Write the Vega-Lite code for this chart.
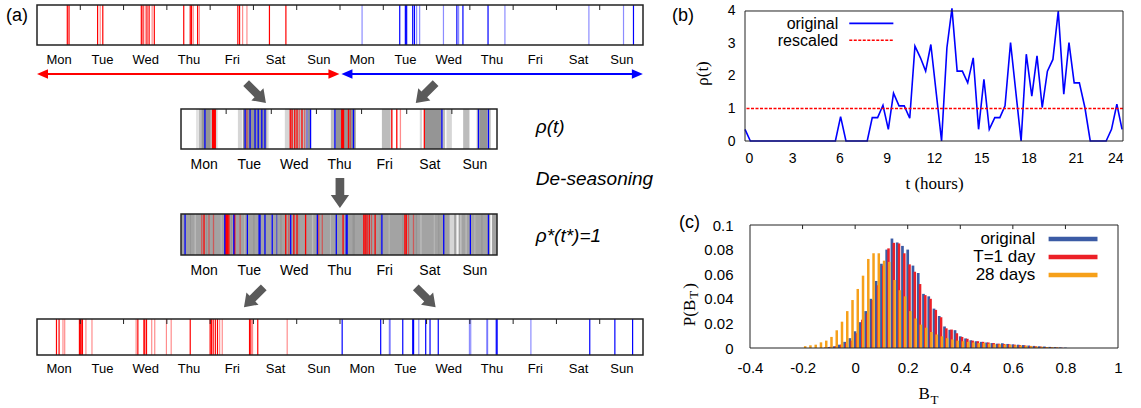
{
  "$schema": "https://vega.github.io/schema/vega-lite/v6.json",
  "background": "white",
  "padding": {"left": 6, "top": 3, "right": 0, "bottom": 0},
  "bounds": "flush",
  "spacing": 708,
  "resolve": {"scale": {"color": "independent", "fill": "independent", "strokeOpacity": "independent"}},
  "config": {
    "view": {"stroke": null},
    "font": "Liberation Sans",
    "axis": {"labelFont": "Liberation Sans", "labelColor": "#000", "titleColor": "#000", "titleFont": "Liberation Serif", "titleFontWeight": "normal", "grid": false, "domainColor": "#000", "tickColor": "#000", "labelOverlap": false},
    "text": {"font": "Liberation Sans", "color": "#000"}
  },
  "datasets": {
    "dt": [{"d":1},{"d":2},{"d":3},{"d":4},{"d":5},{"d":6},{"d":7},{"d":8},{"d":9},{"d":10},{"d":11},{"d":12},{"d":13}],
    "ev": [
      {"s":1,"t":0.70,"w":1,"n":2},{"s":1,"t":0.74,"w":1,"n":2},{"s":1,"t":1.40,"w":1,"n":2},{"s":1,"t":1.46,"w":1,"n":1},{"s":1,"t":1.52,"w":1,"n":2},{"s":1,"t":2.41,"w":1,"n":2},{"s":1,"t":2.45,"w":1,"n":2},{"s":1,"t":2.50,"w":1,"n":1},{"s":1,"t":2.54,"w":1,"n":2},{"s":1,"t":2.59,"w":1,"n":2},{"s":1,"t":2.66,"w":1,"n":1},{"s":1,"t":2.71,"w":1,"n":2},{"s":1,"t":3.39,"w":1,"n":2},{"s":1,"t":3.54,"w":1,"n":2},{"s":1,"t":3.57,"w":1,"n":2},{"s":1,"t":3.61,"w":1,"n":1},{"s":1,"t":3.71,"w":1,"n":2},{"s":1,"t":3.75,"w":1,"n":1},{"s":1,"t":4.64,"w":1,"n":2},{"s":1,"t":4.68,"w":1,"n":2},{"s":1,"t":4.75,"w":1,"n":1},{"s":1,"t":4.85,"w":1,"n":1},{"s":1,"t":5.37,"w":1,"n":2},{"s":1,"t":5.75,"w":1,"n":2},
      {"s":1,"t":7.51,"w":2,"n":1},{"s":1,"t":8.38,"w":2,"n":2},{"s":1,"t":8.51,"w":2,"n":2},{"s":1,"t":8.54,"w":2,"n":2},{"s":1,"t":8.68,"w":2,"n":2},{"s":1,"t":8.72,"w":2,"n":2},{"s":1,"t":8.77,"w":2,"n":1},{"s":1,"t":8.84,"w":2,"n":1},{"s":1,"t":9.39,"w":2,"n":1},{"s":1,"t":9.70,"w":2,"n":2},{"s":1,"t":9.74,"w":2,"n":1},{"s":1,"t":9.84,"w":2,"n":2},{"s":1,"t":10.42,"w":2,"n":2},{"s":1,"t":10.81,"w":2,"n":1},{"s":1,"t":12.75,"w":2,"n":1},{"s":1,"t":13.55,"w":2,"n":1},{"s":1,"t":13.78,"w":2,"n":2},
      {"s":2,"t":0.70,"w":1,"n":2},{"s":2,"t":0.72,"w":1,"n":2},{"s":2,"t":0.74,"w":1,"n":2},{"s":2,"t":0.76,"w":1,"n":2},{"s":2,"t":1.46,"w":1,"n":1},{"s":2,"t":2.42,"w":1,"n":2},{"s":2,"t":2.46,"w":1,"n":2},{"s":2,"t":2.52,"w":1,"n":2},{"s":2,"t":2.57,"w":1,"n":2},{"s":2,"t":2.62,"w":1,"n":1},{"s":2,"t":2.68,"w":1,"n":2},{"s":2,"t":2.74,"w":1,"n":1},{"s":2,"t":3.56,"w":1,"n":2},{"s":2,"t":3.58,"w":1,"n":2},{"s":2,"t":3.60,"w":1,"n":2},{"s":2,"t":3.71,"w":1,"n":2},{"s":2,"t":3.75,"w":1,"n":1},{"s":2,"t":4.67,"w":1,"n":2},{"s":2,"t":4.78,"w":1,"n":2},{"s":2,"t":4.86,"w":1,"n":1},{"s":2,"t":5.39,"w":1,"n":2},
      {"s":2,"t":0.53,"w":2,"n":2},{"s":2,"t":1.42,"w":2,"n":2},{"s":2,"t":1.53,"w":2,"n":2},{"s":2,"t":1.64,"w":2,"n":2},{"s":2,"t":1.71,"w":2,"n":2},{"s":2,"t":1.79,"w":2,"n":2},{"s":2,"t":1.86,"w":2,"n":2},{"s":2,"t":2.79,"w":2,"n":1},{"s":2,"t":2.87,"w":2,"n":2},{"s":2,"t":3.41,"w":2,"n":2},{"s":2,"t":3.82,"w":2,"n":2},{"s":2,"t":5.78,"w":2,"n":2},{"s":2,"t":6.59,"w":2,"n":2},{"s":2,"t":6.81,"w":2,"n":2},
      {"s":3,"t":0.46,"w":1,"n":1},{"s":3,"t":0.51,"w":1,"n":2},{"s":3,"t":0.62,"w":1,"n":1},{"s":3,"t":0.72,"w":1,"n":1},{"s":3,"t":0.99,"w":1,"n":2},{"s":3,"t":1.01,"w":1,"n":2},{"s":3,"t":1.03,"w":1,"n":2},{"s":3,"t":1.06,"w":1,"n":2},{"s":3,"t":1.19,"w":1,"n":2},{"s":3,"t":1.31,"w":1,"n":1},{"s":3,"t":2.32,"w":1,"n":2},{"s":3,"t":2.39,"w":1,"n":1},{"s":3,"t":2.50,"w":1,"n":2},{"s":3,"t":2.57,"w":1,"n":2},{"s":3,"t":2.76,"w":1,"n":2},{"s":3,"t":3.05,"w":1,"n":1},{"s":3,"t":3.13,"w":1,"n":1},{"s":3,"t":3.59,"w":1,"n":2},{"s":3,"t":4.05,"w":1,"n":2},{"s":3,"t":4.08,"w":1,"n":2},{"s":3,"t":4.12,"w":1,"n":2},{"s":3,"t":4.17,"w":1,"n":2},{"s":3,"t":4.22,"w":1,"n":1},{"s":3,"t":4.30,"w":1,"n":2},{"s":3,"t":4.96,"w":1,"n":2},{"s":3,"t":4.99,"w":1,"n":2},{"s":3,"t":5.04,"w":1,"n":1},{"s":3,"t":5.15,"w":1,"n":1},
      {"s":3,"t":0.09,"w":2,"n":2},{"s":3,"t":0.97,"w":2,"n":2},{"s":3,"t":1.17,"w":2,"n":2},{"s":3,"t":1.47,"w":2,"n":2},{"s":3,"t":1.73,"w":2,"n":2},{"s":3,"t":1.75,"w":2,"n":2},{"s":3,"t":1.86,"w":2,"n":2},{"s":3,"t":2.02,"w":2,"n":2},{"s":3,"t":2.12,"w":2,"n":1},{"s":3,"t":2.43,"w":2,"n":2},{"s":3,"t":3.02,"w":2,"n":2},{"s":3,"t":3.44,"w":2,"n":2},{"s":3,"t":3.66,"w":2,"n":2},{"s":3,"t":3.68,"w":2,"n":2},{"s":3,"t":4.45,"w":2,"n":2},{"s":3,"t":5.82,"w":2,"n":2},{"s":3,"t":6.41,"w":2,"n":2},{"s":3,"t":6.81,"w":2,"n":2},
      {"s":4,"t":0.45,"w":1,"n":2},{"s":4,"t":0.51,"w":1,"n":2},{"s":4,"t":0.60,"w":1,"n":1},{"s":4,"t":0.64,"w":1,"n":1},{"s":4,"t":0.98,"w":1,"n":2},{"s":4,"t":1.00,"w":1,"n":2},{"s":4,"t":1.02,"w":1,"n":2},{"s":4,"t":1.05,"w":1,"n":2},{"s":4,"t":1.13,"w":1,"n":1},{"s":4,"t":1.27,"w":1,"n":1},{"s":4,"t":2.29,"w":1,"n":1},{"s":4,"t":2.33,"w":1,"n":2},{"s":4,"t":2.47,"w":1,"n":2},{"s":4,"t":2.49,"w":1,"n":2},{"s":4,"t":2.53,"w":1,"n":2},{"s":4,"t":2.65,"w":1,"n":1},{"s":4,"t":2.72,"w":1,"n":1},{"s":4,"t":2.99,"w":1,"n":1},{"s":4,"t":3.10,"w":1,"n":1},{"s":4,"t":3.54,"w":1,"n":2},{"s":4,"t":4.00,"w":1,"n":2},{"s":4,"t":4.03,"w":1,"n":2},{"s":4,"t":4.07,"w":1,"n":2},{"s":4,"t":4.12,"w":1,"n":2},{"s":4,"t":4.17,"w":1,"n":2},{"s":4,"t":4.22,"w":1,"n":1},{"s":4,"t":4.28,"w":1,"n":1},{"s":4,"t":4.91,"w":1,"n":2},{"s":4,"t":4.94,"w":1,"n":2},{"s":4,"t":4.98,"w":1,"n":1},{"s":4,"t":5.10,"w":1,"n":2},{"s":4,"t":5.78,"w":1,"n":1},
      {"s":4,"t":7.05,"w":2,"n":2},{"s":4,"t":7.94,"w":2,"n":2},{"s":4,"t":8.14,"w":2,"n":1},{"s":4,"t":8.16,"w":2,"n":1},{"s":4,"t":8.45,"w":2,"n":2},{"s":4,"t":8.68,"w":2,"n":2},{"s":4,"t":8.70,"w":2,"n":2},{"s":4,"t":8.82,"w":2,"n":1},{"s":4,"t":8.98,"w":2,"n":2},{"s":4,"t":9.08,"w":2,"n":2},{"s":4,"t":9.27,"w":2,"n":2},{"s":4,"t":9.99,"w":2,"n":1},{"s":4,"t":10.02,"w":2,"n":1},{"s":4,"t":10.39,"w":2,"n":1},{"s":4,"t":10.41,"w":2,"n":1},{"s":4,"t":10.61,"w":2,"n":2},{"s":4,"t":10.63,"w":2,"n":2},{"s":4,"t":11.41,"w":2,"n":1},{"s":4,"t":12.77,"w":2,"n":2},{"s":4,"t":13.35,"w":2,"n":2},{"s":4,"t":13.76,"w":2,"n":2}
    ],
    "gray": [
      {"s":2,"a":0.34,"b":0.37,"g":1},{"s":2,"a":0.39,"b":0.45,"g":2},{"s":2,"a":0.45,"b":0.66,"g":4},{"s":2,"a":0.66,"b":0.70,"g":2},{"s":2,"a":0.77,"b":0.81,"g":1},
      {"s":2,"a":1.26,"b":1.35,"g":1},{"s":2,"a":1.37,"b":1.90,"g":4},{"s":2,"a":1.90,"b":1.94,"g":1},
      {"s":2,"a":2.30,"b":2.42,"g":1},{"s":2,"a":2.42,"b":2.80,"g":2},{"s":2,"a":2.80,"b":2.86,"g":4},
      {"s":2,"a":3.32,"b":3.42,"g":2},{"s":2,"a":3.42,"b":3.87,"g":4},
      {"s":2,"a":4.45,"b":4.63,"g":2},{"s":2,"a":4.63,"b":4.68,"g":1},
      {"s":2,"a":5.29,"b":5.34,"g":1},{"s":2,"a":5.40,"b":5.79,"g":4},{"s":2,"a":5.79,"b":5.85,"g":2},{"s":2,"a":5.88,"b":6.00,"g":1},
      {"s":2,"a":6.25,"b":6.39,"g":2},{"s":2,"a":6.55,"b":6.86,"g":2},{"s":2,"a":6.62,"b":6.78,"g":4},
      {"s":3,"a":0.00,"b":7.00,"g":3},
      {"s":3,"a":0.20,"b":0.22,"g":4},{"s":3,"a":0.30,"b":0.33,"g":2},{"s":3,"a":0.55,"b":0.58,"g":4},{"s":3,"a":0.88,"b":0.90,"g":2},{"s":3,"a":1.10,"b":1.13,"g":4},{"s":3,"a":1.40,"b":1.42,"g":2},{"s":3,"a":1.60,"b":1.63,"g":4},{"s":3,"a":2.00,"b":2.02,"g":2},{"s":3,"a":2.20,"b":2.23,"g":4},{"s":3,"a":2.60,"b":2.62,"g":4},{"s":3,"a":2.90,"b":2.93,"g":2},{"s":3,"a":3.30,"b":3.32,"g":2},{"s":3,"a":3.80,"b":3.85,"g":4},{"s":3,"a":4.40,"b":4.43,"g":4},{"s":3,"a":4.60,"b":4.62,"g":2},{"s":3,"a":4.90,"b":4.93,"g":4},{"s":3,"a":5.20,"b":5.23,"g":4},{"s":3,"a":5.30,"b":5.33,"g":2},{"s":3,"a":5.60,"b":5.62,"g":2},{"s":3,"a":5.70,"b":5.72,"g":4},{"s":3,"a":5.95,"b":6.05,"g":1},{"s":3,"a":6.10,"b":6.15,"g":0},{"s":3,"a":6.19,"b":6.21,"g":1},{"s":3,"a":6.30,"b":6.33,"g":2},{"s":3,"a":6.50,"b":6.52,"g":2},{"s":3,"a":6.65,"b":6.68,"g":4},{"s":3,"a":6.85,"b":6.89,"g":0}
    ],
    "rho": [
      {"t":0.00,"r":0.36},{"t":0.34,"r":0},{"t":5.74,"r":0},{"t":6.07,"r":0.75},{"t":6.41,"r":0},{"t":7.76,"r":0},{"t":8.08,"r":0.72},{"t":8.42,"r":0.72},{"t":8.76,"r":1.1},{"t":9.10,"r":0.36},{"t":9.43,"r":1.47},{"t":9.78,"r":1.08},{"t":10.11,"r":1.08},{"t":10.46,"r":0.7},{"t":10.79,"r":2.92},{"t":11.14,"r":2.56},{"t":11.47,"r":2.15},{"t":11.80,"r":2.97},{"t":12.15,"r":1.44},{"t":12.48,"r":0},{"t":12.82,"r":2.87},{"t":13.14,"r":4.08},{"t":13.47,"r":2.15},{"t":13.80,"r":2.15},{"t":14.14,"r":1.79},{"t":14.49,"r":2.56},{"t":14.83,"r":0.36},{"t":15.17,"r":1.9},{"t":15.51,"r":0.36},{"t":15.86,"r":0.72},{"t":16.18,"r":0.72},{"t":16.51,"r":1.08},{"t":16.86,"r":3.03},{"t":17.21,"r":1.44},{"t":17.53,"r":0},{"t":17.86,"r":2.67},{"t":18.21,"r":1.38},{"t":18.54,"r":2.62},{"t":18.87,"r":1.03},{"t":19.20,"r":2.15},{"t":19.55,"r":2.51},{"t":19.89,"r":4.0},{"t":20.24,"r":1.44},{"t":20.57,"r":3.03},{"t":20.90,"r":1.79},{"t":21.23,"r":1.79},{"t":21.58,"r":1.03},{"t":21.92,"r":0},{"t":22.93,"r":0},{"t":23.27,"r":0.36},{"t":23.61,"r":1.13},{"t":23.94,"r":0.36}
    ],
    "hist": [
      {"k":"original","x":-0.10,"p":0.0008},{"k":"original","x":-0.08,"p":0.0014},{"k":"original","x":-0.06,"p":0.0027},{"k":"original","x":-0.04,"p":0.005},{"k":"original","x":-0.02,"p":0.008},{"k":"original","x":0.00,"p":0.0136},{"k":"original","x":0.02,"p":0.021},{"k":"original","x":0.04,"p":0.030},{"k":"original","x":0.06,"p":0.040},{"k":"original","x":0.08,"p":0.0545},{"k":"original","x":0.10,"p":0.0685},{"k":"original","x":0.12,"p":0.080},{"k":"original","x":0.14,"p":0.089},{"k":"original","x":0.16,"p":0.0858},{"k":"original","x":0.18,"p":0.083},{"k":"original","x":0.20,"p":0.080},{"k":"original","x":0.22,"p":0.067},{"k":"original","x":0.24,"p":0.061},{"k":"original","x":0.26,"p":0.044},{"k":"original","x":0.28,"p":0.042},{"k":"original","x":0.30,"p":0.032},{"k":"original","x":0.32,"p":0.026},{"k":"original","x":0.34,"p":0.0175},{"k":"original","x":0.36,"p":0.0148},{"k":"original","x":0.38,"p":0.0145},{"k":"original","x":0.40,"p":0.0095},{"k":"original","x":0.42,"p":0.0078},{"k":"original","x":0.44,"p":0.0063},{"k":"original","x":0.46,"p":0.0055},{"k":"original","x":0.48,"p":0.005},{"k":"original","x":0.50,"p":0.0045},{"k":"original","x":0.52,"p":0.004},{"k":"original","x":0.54,"p":0.0035},{"k":"original","x":0.56,"p":0.0038},{"k":"original","x":0.58,"p":0.0033},{"k":"original","x":0.60,"p":0.003},{"k":"original","x":0.62,"p":0.0027},{"k":"original","x":0.64,"p":0.0024},{"k":"original","x":0.66,"p":0.002},{"k":"original","x":0.68,"p":0.0017},{"k":"original","x":0.70,"p":0.0014},{"k":"original","x":0.72,"p":0.0012},{"k":"original","x":0.74,"p":0.0009},{"k":"original","x":0.76,"p":0.0007},{"k":"original","x":0.78,"p":0.0005},{"k":"original","x":0.80,"p":0.0003},
      {"k":"day","x":-0.113,"p":0.0005},{"k":"day","x":-0.093,"p":0.001},{"k":"day","x":-0.073,"p":0.0016},{"k":"day","x":-0.053,"p":0.0027},{"k":"day","x":-0.033,"p":0.004},{"k":"day","x":-0.013,"p":0.006},{"k":"day","x":0.007,"p":0.012},{"k":"day","x":0.027,"p":0.023},{"k":"day","x":0.047,"p":0.028},{"k":"day","x":0.067,"p":0.039},{"k":"day","x":0.087,"p":0.051},{"k":"day","x":0.107,"p":0.067},{"k":"day","x":0.127,"p":0.081},{"k":"day","x":0.147,"p":0.0855},{"k":"day","x":0.167,"p":0.085},{"k":"day","x":0.187,"p":0.077},{"k":"day","x":0.207,"p":0.068},{"k":"day","x":0.227,"p":0.062},{"k":"day","x":0.247,"p":0.052},{"k":"day","x":0.267,"p":0.043},{"k":"day","x":0.287,"p":0.040},{"k":"day","x":0.307,"p":0.031},{"k":"day","x":0.327,"p":0.025},{"k":"day","x":0.347,"p":0.016},{"k":"day","x":0.367,"p":0.015},{"k":"day","x":0.387,"p":0.012},{"k":"day","x":0.407,"p":0.009},{"k":"day","x":0.427,"p":0.0075},{"k":"day","x":0.447,"p":0.006},{"k":"day","x":0.467,"p":0.0055},{"k":"day","x":0.487,"p":0.005},{"k":"day","x":0.507,"p":0.0045},{"k":"day","x":0.527,"p":0.004},{"k":"day","x":0.547,"p":0.0035},{"k":"day","x":0.567,"p":0.0033},{"k":"day","x":0.587,"p":0.003},{"k":"day","x":0.607,"p":0.0027},{"k":"day","x":0.627,"p":0.0024},{"k":"day","x":0.647,"p":0.002},{"k":"day","x":0.667,"p":0.0017},{"k":"day","x":0.687,"p":0.0014},{"k":"day","x":0.707,"p":0.0011},{"k":"day","x":0.727,"p":0.0008},{"k":"day","x":0.747,"p":0.0006},{"k":"day","x":0.767,"p":0.0004},{"k":"day","x":0.787,"p":0.0002},
      {"k":"month","x":-0.19,"p":0.0015},{"k":"month","x":-0.17,"p":0.0022},{"k":"month","x":-0.15,"p":0.0027},{"k":"month","x":-0.13,"p":0.0046},{"k":"month","x":-0.11,"p":0.006},{"k":"month","x":-0.09,"p":0.009},{"k":"month","x":-0.07,"p":0.0144},{"k":"month","x":-0.05,"p":0.0214},{"k":"month","x":-0.03,"p":0.030},{"k":"month","x":-0.01,"p":0.039},{"k":"month","x":0.01,"p":0.048},{"k":"month","x":0.03,"p":0.0588},{"k":"month","x":0.05,"p":0.0724},{"k":"month","x":0.07,"p":0.077},{"k":"month","x":0.09,"p":0.077},{"k":"month","x":0.11,"p":0.071},{"k":"month","x":0.13,"p":0.070},{"k":"month","x":0.15,"p":0.0553},{"k":"month","x":0.17,"p":0.047},{"k":"month","x":0.19,"p":0.042},{"k":"month","x":0.21,"p":0.030},{"k":"month","x":0.23,"p":0.024},{"k":"month","x":0.25,"p":0.019},{"k":"month","x":0.27,"p":0.0165},{"k":"month","x":0.29,"p":0.013},{"k":"month","x":0.31,"p":0.011},{"k":"month","x":0.33,"p":0.0095},{"k":"month","x":0.35,"p":0.008},{"k":"month","x":0.37,"p":0.007},{"k":"month","x":0.39,"p":0.006},{"k":"month","x":0.41,"p":0.0055},{"k":"month","x":0.43,"p":0.005},{"k":"month","x":0.45,"p":0.0045},{"k":"month","x":0.47,"p":0.004},{"k":"month","x":0.49,"p":0.004},{"k":"month","x":0.51,"p":0.0035},{"k":"month","x":0.53,"p":0.003},{"k":"month","x":0.55,"p":0.003},{"k":"month","x":0.57,"p":0.0028},{"k":"month","x":0.59,"p":0.0025},{"k":"month","x":0.61,"p":0.0022},{"k":"month","x":0.63,"p":0.002},{"k":"month","x":0.65,"p":0.0018},{"k":"month","x":0.67,"p":0.0015},{"k":"month","x":0.69,"p":0.0012},{"k":"month","x":0.71,"p":0.001},{"k":"month","x":0.73,"p":0.0008},{"k":"month","x":0.75,"p":0.0006},{"k":"month","x":0.77,"p":0.0004}
    ]
  },
  "hconcat": [
    {
      "bounds": "flush",
      "spacing": 0,
      "vconcat": [
        {
          "width": 606, "height": 40,
          "layer": [
            {"data": {"name": "ev"}, "transform": [{"filter": "datum.s == 1"}],
             "mark": {"type": "rule", "strokeWidth": 1.2},
             "encoding": {
               "x": {"field": "t", "type": "quantitative", "scale": {"domain": [0, 14], "nice": false, "zero": false},
                     "axis": {"orient": "bottom", "values": [0.5,1.5,2.5,3.5,4.5,5.5,6.5,7.5,8.5,9.5,10.5,11.5,12.5,13.5], "labelExpr": "['Mon','Tue','Wed','Thu','Fri','Sat','Sun'][floor(datum.value) % 7]", "domain": false, "ticks": false, "tickSize": 0, "labelFontSize": 13, "labelPadding": 8, "labelOverlap": false, "title": null}},
               "color": {"field": "w", "type": "nominal", "scale": {"domain": [1, 2], "range": ["#ff0000", "#0000ff"]}, "legend": null},
               "strokeOpacity": {"field": "n", "type": "quantitative", "scale": {"domain": [1, 2], "range": [0.45, 1]}, "legend": null}
             }},
            {"data": {"name": "dt"},
             "mark": {"type": "rule", "color": "#222", "strokeWidth": 1},
             "encoding": {"x": {"field": "d", "type": "quantitative"}, "y": {"datum": 1, "type": "quantitative", "scale": {"domain": [0, 1]}, "axis": null}, "y2": {"datum": 0.875}}},
            {"data": {"values": [{}]},
             "mark": {"type": "rect", "fillOpacity": 0, "stroke": "#222", "strokeWidth": 1.5},
             "encoding": {"x": {"datum": 0}, "x2": {"datum": 14}, "y": {"datum": 0}, "y2": {"datum": 1}}},
            {"data": {"values": [{}]},
             "mark": {"type": "text", "fontSize": 18, "align": "center", "baseline": "middle"},
             "encoding": {"x": {"datum": -0.46}, "y": {"datum": 0.725}, "text": {"value": "(a)"}}}
          ]
        },
        {
          "width": 606, "height": 64,
          "layer": [
            {"data": {"values": [{}]}, "mark": {"type": "rule", "color": "#ff0000", "strokeWidth": 2},
             "encoding": {"x": {"datum": 0.1, "type": "quantitative", "scale": {"domain": [0, 14], "nice": false, "zero": false}, "axis": null}, "x2": {"datum": 6.9}, "y": {"datum": 0.547, "type": "quantitative", "scale": {"domain": [0, 1]}, "axis": null}}},
            {"data": {"values": [{}]}, "mark": {"type": "rule", "color": "#0000ff", "strokeWidth": 2},
             "encoding": {"x": {"datum": 7.1}, "x2": {"datum": 13.9}, "y": {"datum": 0.547}}},
            {"data": {"values": [{}]}, "mark": {"type": "point", "shape": "M-1,0L1,-0.85L1,0.85Z", "size": 121, "filled": true, "opacity": 1, "color": "#ff0000"},
             "encoding": {"x": {"datum": 0.127}, "y": {"datum": 0.547}}},
            {"data": {"values": [{}]}, "mark": {"type": "point", "shape": "M1,0L-1,-0.85L-1,0.85Z", "size": 121, "filled": true, "opacity": 1, "color": "#ff0000"},
             "encoding": {"x": {"datum": 6.86}, "y": {"datum": 0.547}}},
            {"data": {"values": [{}]}, "mark": {"type": "point", "shape": "M-1,0L1,-0.85L1,0.85Z", "size": 121, "filled": true, "opacity": 1, "color": "#0000ff"},
             "encoding": {"x": {"datum": 7.16}, "y": {"datum": 0.547}}},
            {"data": {"values": [{}]}, "mark": {"type": "point", "shape": "M1,0L-1,-0.85L-1,0.85Z", "size": 121, "filled": true, "opacity": 1, "color": "#0000ff"},
             "encoding": {"x": {"datum": 13.87}, "y": {"datum": 0.547}}},
            {"data": {"values": [{}]}, "mark": {"type": "point", "shape": "M-0.29,-1L0.29,-1L0.29,0.14L0.61,0.14L0,1L-0.61,0.14L-0.29,0.14Z", "size": 784, "angle": 315, "filled": true, "opacity": 1, "color": "#5a5a5a"},
             "encoding": {"x": {"datum": 5.06}, "y": {"datum": 0.25}}},
            {"data": {"values": [{}]}, "mark": {"type": "point", "shape": "M-0.29,-1L0.29,-1L0.29,0.14L0.61,0.14L0,1L-0.61,0.14L-0.29,0.14Z", "size": 784, "angle": 45, "filled": true, "opacity": 1, "color": "#5a5a5a"},
             "encoding": {"x": {"datum": 8.98}, "y": {"datum": 0.25}}}
          ]
        },
        {
          "width": 606, "height": 40,
          "layer": [
            {"data": {"name": "gray"}, "transform": [{"filter": "datum.s == 2"}],
             "mark": {"type": "rect"},
             "encoding": {
               "x": {"field": "a", "type": "quantitative", "scale": {"domain": [-3.19, 10.234], "nice": false, "zero": false},
                     "axis": {"orient": "bottom", "values": [0.5,1.5,2.5,3.5,4.5,5.5,6.5], "labelExpr": "['Mon','Tue','Wed','Thu','Fri','Sat','Sun'][floor(datum.value) % 7]", "domain": false, "ticks": false, "tickSize": 0, "labelFontSize": 14, "labelPadding": 8.5, "labelOverlap": false, "title": null}},
               "x2": {"field": "b"},
               "y": {"datum": 0, "type": "quantitative", "scale": {"domain": [0, 1]}, "axis": null},
               "y2": {"datum": 1},
               "fill": {"field": "g", "type": "ordinal", "scale": {"domain": [0, 1, 2, 3, 4], "range": ["#f4f4f4", "#d6d6d6", "#bcbcbc", "#a3a3a3", "#959595"]}, "legend": null}
             }},
            {"data": {"name": "ev"}, "transform": [{"filter": "datum.s == 2"}],
             "mark": {"type": "rule", "strokeWidth": 1.3},
             "encoding": {
               "x": {"field": "t", "type": "quantitative"},
               "color": {"field": "w", "type": "nominal", "scale": {"domain": [1, 2], "range": ["#ff0000", "#0000ff"]}, "legend": null},
               "strokeOpacity": {"field": "n", "type": "quantitative", "scale": {"domain": [1, 2], "range": [0.45, 1]}, "legend": null}
             }},
            {"data": {"name": "dt"}, "transform": [{"filter": "datum.d <= 6"}],
             "mark": {"type": "rule", "color": "#222", "strokeWidth": 1},
             "encoding": {"x": {"field": "d", "type": "quantitative"}, "y": {"datum": 1}, "y2": {"datum": 0.875}}},
            {"data": {"values": [{}]},
             "mark": {"type": "rect", "fillOpacity": 0, "stroke": "#222", "strokeWidth": 1.5},
             "encoding": {"x": {"datum": 0}, "x2": {"datum": 7}, "y": {"datum": 0}, "y2": {"datum": 1}}},
            {"data": {"values": [{}]},
             "mark": {"type": "text", "fontSize": 19, "fontStyle": "italic", "align": "left", "baseline": "middle"},
             "encoding": {"x": {"datum": 7.86}, "y": {"datum": 0.55}, "text": {"value": "ρ(t)"}}}
          ]
        },
        {
          "width": 606, "height": 65,
          "layer": [
            {"data": {"values": [{}]}, "mark": {"type": "point", "shape": "M-0.29,-1L0.29,-1L0.29,0.14L0.61,0.14L0,1L-0.61,0.14L-0.29,0.14Z", "size": 900, "filled": true, "opacity": 1, "color": "#5a5a5a"},
             "encoding": {"x": {"datum": 3.52, "type": "quantitative", "scale": {"domain": [-3.19, 10.234], "nice": false, "zero": false}, "axis": null}, "y": {"datum": 0.323, "type": "quantitative", "scale": {"domain": [0, 1]}, "axis": null}}},
            {"data": {"values": [{}]},
             "mark": {"type": "text", "fontSize": 19, "fontStyle": "italic", "align": "left", "baseline": "middle"},
             "encoding": {"x": {"datum": 7.86}, "y": {"datum": 0.54}, "text": {"value": "De-seasoning"}}}
          ]
        },
        {
          "width": 606, "height": 41,
          "layer": [
            {"data": {"name": "gray"}, "transform": [{"filter": "datum.s == 3"}],
             "mark": {"type": "rect"},
             "encoding": {
               "x": {"field": "a", "type": "quantitative", "scale": {"domain": [-3.19, 10.234], "nice": false, "zero": false},
                     "axis": {"orient": "bottom", "values": [0.5,1.5,2.5,3.5,4.5,5.5,6.5], "labelExpr": "['Mon','Tue','Wed','Thu','Fri','Sat','Sun'][floor(datum.value) % 7]", "domain": false, "ticks": false, "tickSize": 0, "labelFontSize": 14, "labelPadding": 8.5, "labelOverlap": false, "title": null}},
               "x2": {"field": "b"},
               "y": {"datum": 0, "type": "quantitative", "scale": {"domain": [0, 1]}, "axis": null},
               "y2": {"datum": 1},
               "fill": {"field": "g", "type": "ordinal", "scale": {"domain": [0, 1, 2, 3, 4], "range": ["#f4f4f4", "#d6d6d6", "#bcbcbc", "#a3a3a3", "#959595"]}, "legend": null}
             }},
            {"data": {"name": "ev"}, "transform": [{"filter": "datum.s == 3"}],
             "mark": {"type": "rule", "strokeWidth": 1.3},
             "encoding": {
               "x": {"field": "t", "type": "quantitative"},
               "color": {"field": "w", "type": "nominal", "scale": {"domain": [1, 2], "range": ["#ff0000", "#0000ff"]}, "legend": null},
               "strokeOpacity": {"field": "n", "type": "quantitative", "scale": {"domain": [1, 2], "range": [0.45, 1]}, "legend": null}
             }},
            {"data": {"values": [{}]},
             "mark": {"type": "rect", "fillOpacity": 0, "stroke": "#222", "strokeWidth": 1.5},
             "encoding": {"x": {"datum": 0}, "x2": {"datum": 7}, "y": {"datum": 0}, "y2": {"datum": 1}}},
            {"data": {"values": [{}]},
             "mark": {"type": "text", "fontSize": 19, "fontStyle": "italic", "align": "left", "baseline": "middle"},
             "encoding": {"x": {"datum": 7.86}, "y": {"datum": 0.46}, "text": {"value": "ρ*(t*)=1"}}}
          ]
        },
        {
          "width": 606, "height": 64,
          "layer": [
            {"data": {"values": [{}]}, "mark": {"type": "point", "shape": "M-0.29,-1L0.29,-1L0.29,0.14L0.61,0.14L0,1L-0.61,0.14L-0.29,0.14Z", "size": 784, "angle": 45, "filled": true, "opacity": 1, "color": "#5a5a5a"},
             "encoding": {"x": {"datum": 5.01, "type": "quantitative", "scale": {"domain": [0, 14], "nice": false, "zero": false}, "axis": null}, "y": {"datum": 0.34, "type": "quantitative", "scale": {"domain": [0, 1]}, "axis": null}}},
            {"data": {"values": [{}]}, "mark": {"type": "point", "shape": "M-0.29,-1L0.29,-1L0.29,0.14L0.61,0.14L0,1L-0.61,0.14L-0.29,0.14Z", "size": 784, "angle": 315, "filled": true, "opacity": 1, "color": "#5a5a5a"},
             "encoding": {"x": {"datum": 8.98}, "y": {"datum": 0.34}}}
          ]
        },
        {
          "width": 606, "height": 36,
          "layer": [
            {"data": {"name": "ev"}, "transform": [{"filter": "datum.s == 4"}],
             "mark": {"type": "rule", "strokeWidth": 1.2},
             "encoding": {
               "x": {"field": "t", "type": "quantitative", "scale": {"domain": [0, 14], "nice": false, "zero": false},
                     "axis": {"orient": "bottom", "values": [0.5,1.5,2.5,3.5,4.5,5.5,6.5,7.5,8.5,9.5,10.5,11.5,12.5,13.5], "labelExpr": "['Mon','Tue','Wed','Thu','Fri','Sat','Sun'][floor(datum.value) % 7]", "domain": false, "ticks": false, "tickSize": 0, "labelFontSize": 13, "labelPadding": 7.5, "labelOverlap": false, "title": null}},
               "color": {"field": "w", "type": "nominal", "scale": {"domain": [1, 2], "range": ["#ff0000", "#0000ff"]}, "legend": null},
               "strokeOpacity": {"field": "n", "type": "quantitative", "scale": {"domain": [1, 2], "range": [0.45, 1]}, "legend": null}
             }},
            {"data": {"name": "dt"},
             "mark": {"type": "rule", "color": "#222", "strokeWidth": 1},
             "encoding": {"x": {"field": "d", "type": "quantitative"}, "y": {"datum": 1, "type": "quantitative", "scale": {"domain": [0, 1]}, "axis": null}, "y2": {"datum": 0.861}}},
            {"data": {"values": [{}]},
             "mark": {"type": "rect", "fillOpacity": 0, "stroke": "#222", "strokeWidth": 1.5},
             "encoding": {"x": {"datum": 0}, "x2": {"datum": 14}, "y": {"datum": 0}, "y2": {"datum": 1}}}
          ]
        }
      ]
    },
    {
      "bounds": "flush",
      "spacing": 84,
      "vconcat": [
        {
          "width": 378, "height": 136,
          "layer": [
            {"data": {"name": "rho"},
             "mark": {"type": "line", "color": "#0000ff", "strokeWidth": 1.6, "clip": false},
             "encoding": {
               "x": {"field": "t", "type": "quantitative", "scale": {"domain": [0, 24], "nice": false, "zero": false},
                     "axis": {"values": [0,3,6,9,12,15,18,21,24], "title": "t (hours)", "labelFontSize": 14, "labelPadding": 10.5, "labelOverlap": false, "ticks": false, "tickSize": 0, "domain": false, "titleFontSize": 17, "titlePadding": 10}},
               "y": {"field": "r", "type": "quantitative", "scale": {"domain": [0, 4.1846], "nice": false, "zero": false},
                     "axis": {"values": [0,1,2,3,4], "title": "ρ(t)", "labelFontSize": 14, "labelPadding": 10, "labelOverlap": false, "ticks": false, "tickSize": 0, "domain": false, "titleFontSize": 17, "titlePadding": 16}}
             }},
            {"data": {"values": [{}]}, "mark": {"type": "rule", "color": "#ff0000", "strokeWidth": 1.6, "strokeDash": [3, 1.5]},
             "encoding": {"y": {"datum": 1, "axis": {"values": [0,1,2,3,4], "title": "ρ(t)", "labelFontSize": 14, "labelPadding": 10, "labelOverlap": false, "ticks": false, "tickSize": 0, "domain": false, "titleFontSize": 17, "titlePadding": 16}}}},
            {"data": {"values": [{}]},
             "mark": {"type": "rect", "fillOpacity": 0, "stroke": "#222", "strokeWidth": 1},
             "encoding": {"x": {"datum": 0}, "x2": {"datum": 24}, "y": {"datum": 0, "axis": {"values": [0,1,2,3,4], "title": "ρ(t)", "labelFontSize": 14, "labelPadding": 10, "labelOverlap": false, "ticks": false, "tickSize": 0, "domain": false, "titleFontSize": 17, "titlePadding": 16}}, "y2": {"datum": 4}}},
            {"data": {"values": [{}]}, "mark": {"type": "text", "fontSize": 16, "align": "right", "baseline": "middle"},
             "encoding": {"x": {"datum": 5.92}, "y": {"datum": 3.59, "axis": {"values": [0,1,2,3,4], "title": "ρ(t)", "labelFontSize": 14, "labelPadding": 10, "labelOverlap": false, "ticks": false, "tickSize": 0, "domain": false, "titleFontSize": 17, "titlePadding": 16}}, "text": {"value": "original"}}},
            {"data": {"values": [{}]}, "mark": {"type": "text", "fontSize": 16, "align": "right", "baseline": "middle"},
             "encoding": {"x": {"datum": 5.92}, "y": {"datum": 3.08, "axis": {"values": [0,1,2,3,4], "title": "ρ(t)", "labelFontSize": 14, "labelPadding": 10, "labelOverlap": false, "ticks": false, "tickSize": 0, "domain": false, "titleFontSize": 17, "titlePadding": 16}}, "text": {"value": "rescaled"}}},
            {"data": {"values": [{}]}, "mark": {"type": "rule", "color": "#0000ff", "strokeWidth": 1.6},
             "encoding": {"x": {"datum": 6.62}, "x2": {"datum": 9.42}, "y": {"datum": 3.62, "axis": {"values": [0,1,2,3,4], "title": "ρ(t)", "labelFontSize": 14, "labelPadding": 10, "labelOverlap": false, "ticks": false, "tickSize": 0, "domain": false, "titleFontSize": 17, "titlePadding": 16}}}},
            {"data": {"values": [{}]}, "mark": {"type": "rule", "color": "#ff0000", "strokeWidth": 1.6, "strokeDash": [3, 1.5]},
             "encoding": {"x": {"datum": 6.62}, "x2": {"datum": 9.42}, "y": {"datum": 3.1, "axis": {"values": [0,1,2,3,4], "title": "ρ(t)", "labelFontSize": 14, "labelPadding": 10, "labelOverlap": false, "ticks": false, "tickSize": 0, "domain": false, "titleFontSize": 17, "titlePadding": 16}}}},
            {"data": {"values": [{}]}, "mark": {"type": "text", "fontSize": 18, "align": "center", "baseline": "middle"},
             "encoding": {"x": {"datum": -3.94}, "y": {"datum": 3.846, "axis": {"values": [0,1,2,3,4], "title": "ρ(t)", "labelFontSize": 14, "labelPadding": 10, "labelOverlap": false, "ticks": false, "tickSize": 0, "domain": false, "titleFontSize": 17, "titlePadding": 16}}, "text": {"value": "(b)"}}}
          ]
        },
        {
          "width": 378, "height": 123,
          "layer": [
            {"data": {"name": "hist"}, "transform": [{"filter": "datum.k == 'original'"}],
             "mark": {"type": "bar", "color": "#3b5ba5", "width": 2.7},
             "encoding": {
               "x": {"field": "x", "type": "quantitative", "scale": {"domain": [-0.4, 1], "nice": false, "zero": false},
                     "axis": {"values": [-0.4,-0.2,0,0.2,0.4,0.6,0.8,1], "labelExpr": "'' + datum.value", "title": null, "labelFontSize": 15, "labelPadding": 12, "labelOverlap": false, "ticks": false, "tickSize": 0, "domain": false}},
               "y": {"field": "p", "type": "quantitative", "scale": {"domain": [0, 0.1], "nice": false, "zero": false},
                     "axis": {"values": [0,0.02,0.04,0.06,0.08,0.1], "labelExpr": "'' + datum.value", "title": null, "labelFontSize": 15, "labelPadding": 12, "labelOverlap": false, "ticks": false, "tickSize": 0, "domain": false}}
             }},
            {"data": {"name": "hist"}, "transform": [{"filter": "datum.k == 'day'"}],
             "mark": {"type": "bar", "color": "#ec2027", "width": 2.5},
             "encoding": {"x": {"field": "x", "type": "quantitative"}, "y": {"field": "p", "type": "quantitative", "axis": {"values": [0,0.02,0.04,0.06,0.08,0.1], "labelExpr": "'' + datum.value", "title": null, "labelFontSize": 15, "labelPadding": 12, "labelOverlap": false, "ticks": false, "tickSize": 0, "domain": false}}}},
            {"data": {"name": "hist"}, "transform": [{"filter": "datum.k == 'month'"}],
             "mark": {"type": "bar", "color": "#f6a01a", "width": 2.5},
             "encoding": {"x": {"field": "x", "type": "quantitative"}, "y": {"field": "p", "type": "quantitative", "axis": {"values": [0,0.02,0.04,0.06,0.08,0.1], "labelExpr": "'' + datum.value", "title": null, "labelFontSize": 15, "labelPadding": 12, "labelOverlap": false, "ticks": false, "tickSize": 0, "domain": false}}}},
            {"data": {"values": [{"v":-0.2},{"v":0},{"v":0.2},{"v":0.4},{"v":0.6},{"v":0.8}]},
             "mark": {"type": "rule", "color": "#222", "strokeWidth": 1},
             "encoding": {"x": {"field": "v", "type": "quantitative"}, "y": {"datum": 0.1, "axis": {"values": [0,0.02,0.04,0.06,0.08,0.1], "labelExpr": "'' + datum.value", "title": null, "labelFontSize": 15, "labelPadding": 12, "labelOverlap": false, "ticks": false, "tickSize": 0, "domain": false}}, "y2": {"datum": 0.0967}}},
            {"data": {"values": [{}]},
             "mark": {"type": "rect", "fillOpacity": 0, "stroke": "#222", "strokeWidth": 1},
             "encoding": {"x": {"datum": -0.4}, "x2": {"datum": 1}, "y": {"datum": 0, "axis": {"values": [0,0.02,0.04,0.06,0.08,0.1], "labelExpr": "'' + datum.value", "title": null, "labelFontSize": 15, "labelPadding": 12, "labelOverlap": false, "ticks": false, "tickSize": 0, "domain": false}}, "y2": {"datum": 0.1}}},
            {"data": {"values": [{}]}, "mark": {"type": "text", "fontSize": 17, "align": "right", "baseline": "middle"},
             "encoding": {"x": {"datum": 0.685}, "y": {"datum": 0.0886, "axis": {"values": [0,0.02,0.04,0.06,0.08,0.1], "labelExpr": "'' + datum.value", "title": null, "labelFontSize": 15, "labelPadding": 12, "labelOverlap": false, "ticks": false, "tickSize": 0, "domain": false}}, "text": {"value": "original"}}},
            {"data": {"values": [{}]}, "mark": {"type": "text", "fontSize": 17, "align": "right", "baseline": "middle"},
             "encoding": {"x": {"datum": 0.685}, "y": {"datum": 0.074, "axis": {"values": [0,0.02,0.04,0.06,0.08,0.1], "labelExpr": "'' + datum.value", "title": null, "labelFontSize": 15, "labelPadding": 12, "labelOverlap": false, "ticks": false, "tickSize": 0, "domain": false}}, "text": {"value": "T=1 day"}}},
            {"data": {"values": [{}]}, "mark": {"type": "text", "fontSize": 17, "align": "right", "baseline": "middle"},
             "encoding": {"x": {"datum": 0.685}, "y": {"datum": 0.0593, "axis": {"values": [0,0.02,0.04,0.06,0.08,0.1], "labelExpr": "'' + datum.value", "title": null, "labelFontSize": 15, "labelPadding": 12, "labelOverlap": false, "ticks": false, "tickSize": 0, "domain": false}}, "text": {"value": "28 days"}}},
            {"data": {"values": [{}]}, "mark": {"type": "rule", "color": "#3b5ba5", "strokeWidth": 4.5},
             "encoding": {"x": {"datum": 0.736}, "x2": {"datum": 0.922}, "y": {"datum": 0.0886, "axis": {"values": [0,0.02,0.04,0.06,0.08,0.1], "labelExpr": "'' + datum.value", "title": null, "labelFontSize": 15, "labelPadding": 12, "labelOverlap": false, "ticks": false, "tickSize": 0, "domain": false}}}},
            {"data": {"values": [{}]}, "mark": {"type": "rule", "color": "#ec2027", "strokeWidth": 4.5},
             "encoding": {"x": {"datum": 0.736}, "x2": {"datum": 0.922}, "y": {"datum": 0.074, "axis": {"values": [0,0.02,0.04,0.06,0.08,0.1], "labelExpr": "'' + datum.value", "title": null, "labelFontSize": 15, "labelPadding": 12, "labelOverlap": false, "ticks": false, "tickSize": 0, "domain": false}}}},
            {"data": {"values": [{}]}, "mark": {"type": "rule", "color": "#f6a01a", "strokeWidth": 4.5},
             "encoding": {"x": {"datum": 0.736}, "x2": {"datum": 0.922}, "y": {"datum": 0.0593, "axis": {"values": [0,0.02,0.04,0.06,0.08,0.1], "labelExpr": "'' + datum.value", "title": null, "labelFontSize": 15, "labelPadding": 12, "labelOverlap": false, "ticks": false, "tickSize": 0, "domain": false}}}},
            {"data": {"values": [{}]}, "mark": {"type": "text", "fontSize": 18, "align": "center", "baseline": "middle"},
             "encoding": {"x": {"datum": -0.63}, "y": {"datum": 0.1016, "axis": {"values": [0,0.02,0.04,0.06,0.08,0.1], "labelExpr": "'' + datum.value", "title": null, "labelFontSize": 15, "labelPadding": 12, "labelOverlap": false, "ticks": false, "tickSize": 0, "domain": false}}, "text": {"value": "(c)"}}},
            {"data": {"values": [{}]}, "mark": {"type": "text", "font": "Liberation Serif", "fontSize": 17, "align": "center", "baseline": "middle"},
             "encoding": {"x": {"datum": 0.263}, "y": {"datum": -0.037, "axis": {"values": [0,0.02,0.04,0.06,0.08,0.1], "labelExpr": "'' + datum.value", "title": null, "labelFontSize": 15, "labelPadding": 12, "labelOverlap": false, "ticks": false, "tickSize": 0, "domain": false}}, "text": {"value": "B"}}},
            {"data": {"values": [{}]}, "mark": {"type": "text", "font": "Liberation Serif", "fontSize": 13, "align": "center", "baseline": "middle"},
             "encoding": {"x": {"datum": 0.302}, "y": {"datum": -0.0423, "axis": {"values": [0,0.02,0.04,0.06,0.08,0.1], "labelExpr": "'' + datum.value", "title": null, "labelFontSize": 15, "labelPadding": 12, "labelOverlap": false, "ticks": false, "tickSize": 0, "domain": false}}, "text": {"value": "T"}}},
            {"data": {"values": [{}]}, "mark": {"type": "text", "font": "Liberation Serif", "fontSize": 17, "align": "center", "baseline": "middle", "angle": 270},
             "encoding": {"x": {"datum": -0.63}, "y": {"datum": 0.0285, "axis": {"values": [0,0.02,0.04,0.06,0.08,0.1], "labelExpr": "'' + datum.value", "title": null, "labelFontSize": 15, "labelPadding": 12, "labelOverlap": false, "ticks": false, "tickSize": 0, "domain": false}}, "text": {"value": "P(B"}}},
            {"data": {"values": [{}]}, "mark": {"type": "text", "font": "Liberation Serif", "fontSize": 13, "align": "center", "baseline": "middle", "angle": 270},
             "encoding": {"x": {"datum": -0.612}, "y": {"datum": 0.0433, "axis": {"values": [0,0.02,0.04,0.06,0.08,0.1], "labelExpr": "'' + datum.value", "title": null, "labelFontSize": 15, "labelPadding": 12, "labelOverlap": false, "ticks": false, "tickSize": 0, "domain": false}}, "text": {"value": "T"}}},
            {"data": {"values": [{}]}, "mark": {"type": "text", "font": "Liberation Serif", "fontSize": 17, "align": "center", "baseline": "middle", "angle": 270},
             "encoding": {"x": {"datum": -0.63}, "y": {"datum": 0.0505, "axis": {"values": [0,0.02,0.04,0.06,0.08,0.1], "labelExpr": "'' + datum.value", "title": null, "labelFontSize": 15, "labelPadding": 12, "labelOverlap": false, "ticks": false, "tickSize": 0, "domain": false}}, "text": {"value": ")"}}}
          ]
        }
      ]
    }
  ]
}
